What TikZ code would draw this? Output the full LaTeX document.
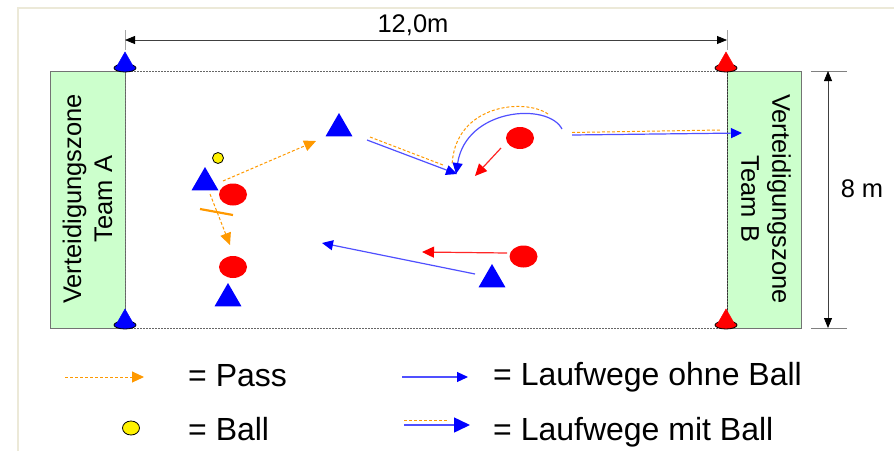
\documentclass[tikz,border=0pt]{standalone}
\usepackage{fontspec}
\setmainfont{Liberation Sans}
\usetikzlibrary{arrows.meta,shapes.geometric}
\definecolor{passc}{RGB}{255,153,0}
\definecolor{zonec}{RGB}{204,255,204}
\definecolor{framec}{RGB}{236,233,216}
\definecolor{runc}{RGB}{80,80,255}
\begin{document}
\begin{tikzpicture}[x=1pt,y=-1pt,
  blueplayer/.style={regular polygon, regular polygon sides=3, minimum size=31pt, inner sep=0pt, fill=blue},
  redplayer/.style={ellipse, minimum width=28pt, minimum height=22pt, inner sep=0pt, fill=red},
  ballnode/.style={circle, minimum size=11pt, inner sep=0pt, fill=yellow, draw=black, line width=0.8pt},
  passline/.style={draw=passc, dash pattern=on 3pt off 2pt, line width=1pt, -{Triangle[length=12pt,width=11pt,color=passc]}},
  balldash/.style={draw=passc, dash pattern=on 3pt off 2pt, line width=1pt},
  runline/.style={draw=runc, line width=1.2pt, -{Triangle[length=11pt,width=10pt,color=blue]}},
  redrun/.style={draw=red!85, line width=1.2pt, -{Triangle[length=12pt,width=11pt,color=red]}},
  dimline/.style={draw=black!75, line width=0.8pt, {Triangle[length=10pt,width=8pt,color=black]}-{Triangle[length=10pt,width=8pt,color=black]}},
  extline/.style={draw=black!35, line width=0.8pt},
  zonebox/.style={fill=zonec, draw=black!55, line width=0.9pt},
  fieldedge/.style={draw=black!60, dash pattern=on 1.5pt off 1.5pt, line width=0.9pt},
  bigtext/.style={font=\fontsize{25.5}{31}\selectfont, inner sep=0pt},
  legtext/.style={font=\fontsize{32}{36}\selectfont, inner sep=0pt, anchor=base west},
]
\useasboundingbox (0,0) rectangle (894,451);
% frame
\draw[framec, line width=1.5pt] (18,451) -- (18,8) -- (894,8);

% zones
\draw[zonebox] (50,71) rectangle (125,328);
\draw[zonebox] (727,71) rectangle (801,328);
\draw[fieldedge] (125,71) -- (727,71);
\draw[fieldedge] (125,328) -- (727,328);
\draw[fieldedge] (125,71) -- (125,328);
\draw[fieldedge, draw=black!80] (727,71) -- (727,328);

\node[bigtext, rotate=90, align=center] (za) at (87.5,199) {Verteidigungszone\\Team A};
\node[bigtext, rotate=-90, align=center] (zb) at (766,199) {Verteidigungszone\\Team B};

% cones
\foreach \cx/\cy/\cc in {125/71/blue, 125/328/blue, 726/71/red, 726/328/red}{
  \filldraw[fill=\cc, draw=black, line width=0.8pt] (\cx,\cy-3) ellipse [x radius=11, y radius=4];
  \filldraw[fill=\cc, draw=\cc, line width=0.5pt] (\cx-8,\cy-5) -- (\cx,\cy-19) -- (\cx+8,\cy-5) -- cycle;
}

% dimensions
\draw[extline] (125,30) -- (125,50);
\draw[extline] (727,30) -- (727,50);
\coordinate (dl) at (125,40);
\coordinate (dr) at (727,40);
\draw[dimline] (dl) -- (dr);
\node[bigtext, anchor=base] (w) at (413,32) {12,0m};

\draw[extline, draw=black!50] (811,71) -- (847,71);
\draw[extline, draw=black!50] (811,328) -- (847,328);
\coordinate (dt) at (828,71);
\coordinate (db) at (828,328);
\draw[dimline] (dt) -- (db);
\node[bigtext, anchor=base] (h) at (862,197) {8 m};

% players
\node[blueplayer] (b1) at (205,182.5) {};
\node[blueplayer] (b2) at (339,128.5) {};
\node[blueplayer] (b3) at (228,298.5) {};
\node[blueplayer] (b4) at (492,279.5) {};
\node[redplayer] (r1) at (233,194.5) {};
\node[redplayer] (r2) at (233,267) {};
\node[redplayer] (r3) at (520,138) {};
\node[redplayer] (r4) at (523.5,256.5) {};
\node[ballnode] (ball) at (218,158) {};

% passes
\coordinate (p1s) at (223,181);
\coordinate (p1e) at (316,141);
\draw[passline] (p1s) -- (p1e);
\coordinate (p2s) at (210,194);
\coordinate (p2e) at (230,245);
\draw[passline] (p2s) -- (p2e);
\coordinate (bls) at (200,209);
\coordinate (ble) at (233,215);
\draw[draw=passc, line width=2.2pt] (bls) -- (ble);

% run with ball 1
\coordinate (m1s) at (367,140);
\coordinate (m1e) at (457,174);
\coordinate (m1os) at (370,137);
\coordinate (m1oe) at (443,165);
\draw[balldash] (m1os) -- (m1oe);
\draw[runline] (m1s) -- (m1e);

% curved run with ball
\coordinate (cs) at (562,129);
\coordinate (ce) at (456,174);
\coordinate (cos) at (548,114);
\coordinate (coe) at (452,165);
\draw[balldash] (cos) .. controls (525,98) and (455,104) .. (coe);
\draw[runline] (cs) .. controls (548,102) and (466,108) .. (ce);

% red run top
\coordinate (rr1s) at (501,148);
\coordinate (rr1e) at (475,176);
\draw[redrun] (rr1s) -- (rr1e);

% long run with ball
\coordinate (ls) at (572,135);
\coordinate (le) at (742,133);
\coordinate (los) at (572,132.5);
\coordinate (loe) at (720,130);
\draw[balldash] (los) -- (loe);
\draw[runline] (ls) -- (le);

% lower runs
\coordinate (lbs) at (475,274);
\coordinate (lbe) at (322,243);
\draw[runline] (lbs) -- (lbe);
\coordinate (lrs) at (507,253);
\coordinate (lre) at (422,252);
\draw[redrun] (lrs) -- (lre);

% legend
\coordinate (lps) at (65,377);
\coordinate (lpe) at (144,377);
\draw[passline] (lps) -- (lpe);
\node[legtext] (tpass) at (188,386) {= Pass};
\node[ellipse, minimum width=17pt, minimum height=14pt, inner sep=0pt, fill=yellow, draw=black, line width=0.8pt] (lball) at (131,428) {};
\node[legtext] (tball) at (188,440) {= Ball};

\coordinate (los1) at (402,377);
\coordinate (loe1) at (468,377);
\draw[runline] (los1) -- (loe1);
\node[legtext] (tohne) at (493,385) {= Laufwege ohne Ball};
\coordinate (lms) at (404,425);
\coordinate (lme) at (470,425);
\coordinate (lmos) at (404,420);
\coordinate (lmoe) at (448,420);
\draw[balldash] (lmos) -- (lmoe);
\draw[draw=runc, line width=1.5pt, -{Triangle[length=16pt,width=15pt,color=blue]}] (lms) -- (lme);
\node[legtext] (tmit) at (493,440) {= Laufwege mit Ball};
\end{tikzpicture}
\end{document}
